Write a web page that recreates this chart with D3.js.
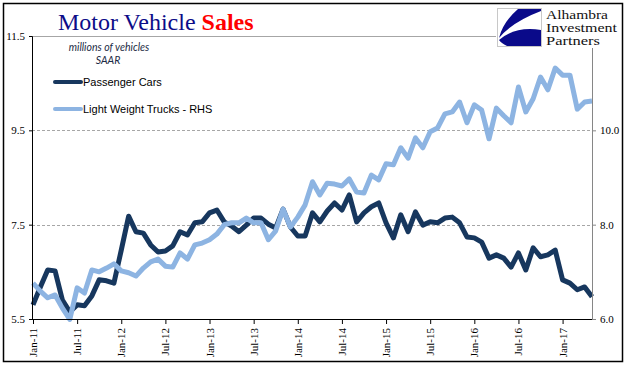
<!DOCTYPE html>
<html><head><meta charset="utf-8">
<script src="https://cdn.jsdelivr.net/npm/d3@7"></script>
<style>body{margin:0;background:#fff}svg{display:block}</style>
</head><body>
<script>
// ---- data ----
// categories: Jan-11 .. May-17 (77 months)
const categories = d3.timeMonth.range(new Date(2011,0,1), new Date(2017,5,1)).map(d3.timeFormat("%b-%y"));
const passengerCars = [
 5.80,6.18,6.54,6.52,5.90,5.65,5.80,5.78,5.99,6.33,6.31,6.26,
 6.96,7.68,7.35,7.32,7.07,6.92,6.94,7.05,7.35,7.28,7.54,7.56,
 7.75,7.81,7.56,7.47,7.35,7.49,7.64,7.64,7.51,7.43,7.83,7.45,
 7.26,7.26,7.75,7.56,7.79,7.96,7.81,8.13,7.56,7.75,7.88,7.96,
 7.54,7.22,7.71,7.35,7.77,7.49,7.56,7.54,7.64,7.66,7.54,7.24,
 7.22,7.13,6.79,6.86,6.79,6.60,6.90,6.54,7.01,6.82,6.86,6.96,
 6.33,6.26,6.12,6.18,5.97];
const lightTrucks = [
 6.76,6.59,6.45,6.51,6.23,5.99,6.66,6.55,7.04,7.00,7.08,7.17,
 7.02,6.98,6.91,7.08,7.21,7.27,7.12,7.10,7.40,7.27,7.57,7.61,
 7.68,7.80,8.00,8.04,8.04,8.14,8.04,8.04,7.68,7.87,8.33,7.95,
 8.16,8.42,8.91,8.63,8.88,8.86,8.82,8.97,8.69,8.67,9.05,8.95,
 9.29,9.27,9.63,9.41,9.84,9.63,9.97,10.05,10.35,10.39,10.60,10.16,
 10.54,10.43,9.82,10.47,10.31,10.16,10.92,10.39,10.67,11.13,10.86,11.32,
 11.17,11.17,10.45,10.60,10.62];
const leftTicks = [5.5, 7.5, 9.5, 11.5];
const rightTicks = [6, 8, 10];
const leftGrid = [7.5, 9.5];
const seriesNames = ["Passenger Cars", "Light Weight Trucks - RHS"];
const logoLines = ["Alhambra","Investment","Partners"];

// ---- drawing ----
const W = 641, H = 375;
const svg = d3.select("body").append("svg").attr("width", W).attr("height", H);
const serif = "'Liberation Serif','Times New Roman',serif";
const sans = "'Liberation Sans',Arial,sans-serif";
const dark = "#17375E", light = "#8DB4E2";

svg.append("rect").attr("x",3.5).attr("y",3.5).attr("width",619).attr("height",358)
  .attr("fill","#fff").attr("stroke","#000").attr("stroke-width",1.5);

const x = d3.scalePoint().domain(categories).range([33, 592]);
const yL = d3.scaleLinear().domain([5.5, 11.5]).range([319, 36]);
const yR = d3.scaleLinear().domain([6, 12]).range([319, 36]);

// gridlines
svg.append("g").selectAll("line").data(leftGrid).join("line")
  .attr("x1",32).attr("x2",592).attr("y1",d=>Math.round(yL(d))+0.5).attr("y2",d=>Math.round(yL(d))+0.5)
  .attr("stroke","#a6a6a6").attr("stroke-dasharray","3,2").attr("stroke-width",1);
svg.append("line").attr("x1",32).attr("x2",496).attr("y1",Math.round(yL(11.5))+0.5).attr("y2",Math.round(yL(11.5))+0.5)
  .attr("stroke","#a6a6a6");

// lines
const lineL = d3.line().x((d,i)=>x(categories[i])).y(d=>yL(d));
const lineR = d3.line().x((d,i)=>x(categories[i])).y(d=>yR(d));
svg.append("path").datum(passengerCars).attr("d",lineL).attr("fill","none")
  .attr("stroke",dark).attr("stroke-width",5).attr("stroke-linejoin","round");
svg.append("path").datum(lightTrucks).attr("d",lineR).attr("fill","none")
  .attr("stroke",light).attr("stroke-width",5).attr("stroke-linejoin","round");

// left axis
const gl = svg.append("g").attr("transform","translate(32,0)")
  .call(d3.axisLeft(yL).tickValues(leftTicks).tickFormat(d3.format(".1f")).tickSizeOuter(0).tickSize(3).tickPadding(4));
gl.select(".domain").attr("stroke","#000");
gl.selectAll(".tick line").attr("stroke","#000");
gl.selectAll("text").attr("font-family",serif).attr("font-size",11).attr("fill","#000");

// right axis
const gr = svg.append("g").attr("transform","translate(592,0)")
  .call(d3.axisRight(yR).tickValues(rightTicks).tickFormat(d3.format(".1f")).tickSizeOuter(0).tickSize(4).tickPadding(4));
gr.select(".domain").attr("d","M0.5,48V319.5").attr("stroke","#868686");
gr.selectAll(".tick line").attr("stroke","#868686");
gr.selectAll("text").attr("font-family",serif).attr("font-size",11).attr("fill","#000");

// x axis
const xt = categories.filter((d,i)=>i%6===0);
const gx = svg.append("g").attr("transform","translate(0,319)")
  .call(d3.axisBottom(x).tickValues(xt).tickSizeOuter(0).tickSize(5));
gx.select(".domain").attr("d","M32,0.5H592").attr("stroke","#000");
gx.selectAll(".tick line").attr("stroke","#000");
gx.selectAll("text").attr("font-family",serif).attr("font-size",11).attr("fill","#000")
  .attr("transform","rotate(-90)").attr("x",-9).attr("y",0).attr("dy","0.32em").attr("text-anchor","end");

// title
const t = svg.append("text").attr("x",58).attr("y",30).attr("font-family",serif).attr("font-size",24);
t.append("tspan").attr("fill","#0c0c88").text("Motor Vehicle ");
t.append("tspan").attr("fill","#ff0000").attr("font-weight","bold").text("Sales");

// units
svg.append("text").attr("x",109).attr("y",51).attr("text-anchor","middle").attr("font-family","Lato,'Open Sans',sans-serif")
  .attr("font-style","italic").attr("font-size",10.5).attr("fill","#1c2b45").text("millions of vehicles");
svg.append("text").attr("x",108).attr("y",64).attr("text-anchor","middle").attr("font-family","Lato,'Open Sans',sans-serif")
  .attr("font-style","italic").attr("font-size",10.5).attr("fill","#1c2b45").text("SAAR");

// legend
const leg = svg.append("g");
[[dark,82],[light,109]].forEach(([c,yy],i)=>{
  leg.append("line").attr("x1",55).attr("x2",81).attr("y1",yy).attr("y2",yy).attr("stroke",c).attr("stroke-width",4).attr("stroke-linecap","round");
  leg.append("text").attr("x",83).attr("y",yy+4).attr("font-family",sans).attr("font-size",11).attr("fill","#000").text(seriesNames[i]);
});

// logo
const lg = svg.append("g");
lg.append("rect").attr("x",497.5).attr("y",8.5).attr("width",44).attr("height",38).attr("fill","#fff").attr("stroke","#c8c8c8");
lg.append("path").attr("d","M518,9 L541,9 L541,11 Q512,22 499,38 Q503,22 518,9 Z").attr("fill","#0a0a8a");
lg.append("path").attr("d","M499,40 Q515,26 541,30 L541,46 L507,46 Q501,43 499,40 Z").attr("fill","#0a0a8a");
logoLines.forEach((s,i)=>{
  svg.append("text").attr("x",546).attr("y",19+i*13).attr("font-family",serif).attr("font-size",11.5)
    .attr("textLength", [62,71,54][i]).attr("lengthAdjust","spacingAndGlyphs").attr("fill","#111").text(s);
});
</script>
</body></html>
